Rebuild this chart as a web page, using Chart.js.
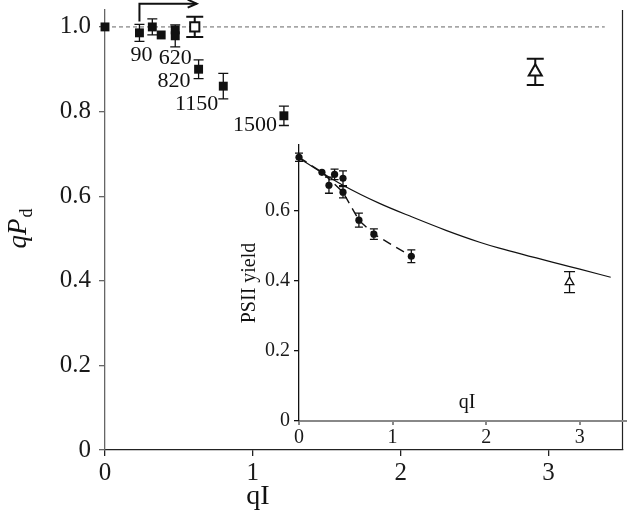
<!DOCTYPE html>
<html>
<head>
<meta charset="utf-8">
<script src="https://cdn.jsdelivr.net/npm/chart.js@4.4.1/dist/chart.umd.min.js"></script>
<style>
    html, body { margin: 0; padding: 0; background: #fff; }
    #wrap { position: relative; width: 632px; height: 518px; }
    #main { position: absolute; left: 0; top: 0; }
    #inset { position: absolute; left: 230px; top: 130px; }
</style>
</head>
<body>
<div id="wrap">
    <canvas id="main" width="632" height="518"></canvas>
    <canvas id="inset" width="402" height="340"></canvas>
</div>
<script>
// ---- main panel: qPd against qI ----
const mainQI  = [0, 0.233, 0.32, 0.38, 0.475, 0.475, 0.633, 0.80, 1.21];
const mainQPd = [1.0, 0.986, 1.0, 0.981, 0.993, 0.979, 0.90, 0.86, 0.79];
const mainErr = [0, 0.02, 0.019, 0, 0, 0.026, 0.022, 0.03, 0.023];

const openSquareQI = [0.607];
const openSquareQPd = [1.0];
const openSquareErr = [0.024];

const triangleQI = [2.91];
const triangleQPd = [0.894];
const triangleErr = [0.031];

// light intensity labels, index into the main arrays
const pointLabels = ['90', '620', '820', '1150', '1500'];
const pointLabelIdx = [1, 5, 6, 7, 8];

const refLineQI = [0, 3.38];
const refLineQPd = [1, 1];

const arrowQI = [0.233, 0.233, 0.62];
const arrowQPd = [1.013, 1.055, 1.055];

const mainXTicks = [0, 1, 2, 3];
const mainYTicks = [0, 0.2, 0.4, 0.6, 0.8, 1.0];

// ---- inset: PSII yield against qI ----
const insetQI    = [0, 0.245, 0.32, 0.38, 0.47, 0.47, 0.64, 0.80, 1.20];
const insetYield = [0.754, 0.711, 0.674, 0.705, 0.694, 0.654, 0.574, 0.534, 0.471];
const insetErr   = [0.012, 0, 0.023, 0.015, 0.021, 0.016, 0.02, 0.015, 0.018];

const fitQI    = [0, 0.245, 0.47, 0.64, 0.80, 1.20];
const fitYield = [0.754, 0.711, 0.654, 0.574, 0.534, 0.471];

const modelQI    = [0, 0.47, 0.86, 1.21, 1.57, 1.93, 2.14, 3.0, 3.33];
const modelYield = [0.751, 0.674, 0.622, 0.583, 0.545, 0.511, 0.494, 0.434, 0.411];

const insetTriQI = [2.89];
const insetTriYield = [0.397];
const insetTriErr = [0.03];

const insetXTicks = [0, 1, 2, 3];
const insetYTicks = [0, 0.2, 0.4, 0.6];

const SERIF = '"Liberation Serif", "DejaVu Serif", serif';

function pts(xs, ys){
    return xs.map((x, i) => ({x: x, y: ys[i]}));
}

function fixedTicks(list){
    return function(scale){
        scale.ticks = list.map(v => ({value: v}));
    };
}

// error bars drawn under the markers
const errorBars = {
    id: 'errorBars',
    beforeDatasetsDraw(chart){
        const ctx = chart.ctx;
        const xs = chart.scales.x, ys = chart.scales.y;
        ctx.save();
        chart.data.datasets.forEach((ds) => {
            if (!ds.errs) return;
            ctx.strokeStyle = '#111';
            ctx.lineWidth = ds.errWidth || 1.3;
            ds.data.forEach((p, i) => {
                const e = ds.errs[i];
                if (!e) return;
                const px = xs.getPixelForValue(p.x);
                const top = ys.getPixelForValue(p.y + e);
                const bot = ys.getPixelForValue(p.y - e);
                const c = ds.capW / 2;
                ctx.beginPath();
                ctx.moveTo(px, top); ctx.lineTo(px, bot);
                ctx.moveTo(px - c, top); ctx.lineTo(px + c, top);
                ctx.moveTo(px - c, bot); ctx.lineTo(px + c, bot);
                ctx.stroke();
            });
        });
        ctx.restore();
    }
};

const mainDecor = {
    id: 'mainDecor',
    afterDraw(chart){
        const ctx = chart.ctx;
        const xs = chart.scales.x, ys = chart.scales.y;
        const area = chart.chartArea;
        ctx.save();

        // right frame line
        ctx.strokeStyle = '#222';
        ctx.lineWidth = 1.2;
        ctx.beginPath();
        ctx.moveTo(area.right, area.top);
        ctx.lineTo(area.right, area.bottom);
        ctx.stroke();

        // arrow
        ctx.strokeStyle = '#111';
        ctx.lineWidth = 2;
        ctx.beginPath();
        arrowQI.forEach((q, i) => {
            const px = xs.getPixelForValue(q), py = ys.getPixelForValue(arrowQPd[i]);
            if (i === 0) ctx.moveTo(px, py); else ctx.lineTo(px, py);
        });
        ctx.stroke();
        const tipX = xs.getPixelForValue(arrowQI[2]);
        const tipY = ys.getPixelForValue(arrowQPd[2]);
        ctx.beginPath();
        ctx.moveTo(tipX - 9, tipY - 4);
        ctx.lineTo(tipX, tipY);
        ctx.lineTo(tipX - 9, tipY + 4);
        ctx.stroke();

        // point labels
        ctx.fillStyle = '#111';
        ctx.font = '22px ' + SERIF;
        ctx.textBaseline = 'middle';
        pointLabels.forEach((txt, k) => {
            const i = pointLabelIdx[k];
            const px = xs.getPixelForValue(mainQI[i]);
            const py = ys.getPixelForValue(mainQPd[i]);
            if (k < 2) {
                ctx.textAlign = 'center';
                ctx.fillText(txt, px + (k === 0 ? 2 : 0), py + 22);
            } else {
                ctx.textAlign = 'right';
                const dy = [12, 18, 9][k - 2];
                const dx = [8, 5, 7][k - 2];
                ctx.fillText(txt, px - dx, py + dy);
            }
        });

        // x title
        ctx.textAlign = 'center';
        ctx.textBaseline = 'middle';
        ctx.font = '28px ' + SERIF;
        ctx.fillText('qI', 258, 497);

        // y title qPd
        ctx.translate(18, 229);
        ctx.rotate(-Math.PI / 2);
        ctx.textAlign = 'left';
        ctx.textBaseline = 'alphabetic';
        ctx.font = 'italic 27px ' + SERIF;
        const w1 = ctx.measureText('qP').width;
        ctx.font = '18px ' + SERIF;
        const w2 = ctx.measureText('d').width;
        const x0 = -(w1 + w2) / 2;
        ctx.font = 'italic 27px ' + SERIF;
        ctx.fillText('qP', x0, 8);
        ctx.font = '18px ' + SERIF;
        ctx.fillText('d', x0 + w1 + 1, 14);
        ctx.restore();
    }
};

const insetDecor = {
    id: 'insetDecor',
    afterDraw(chart){
        const ctx = chart.ctx;
        ctx.save();
        ctx.fillStyle = '#111';
        ctx.textAlign = 'center';
        ctx.textBaseline = 'middle';
        ctx.font = '20px ' + SERIF;
        ctx.fillText('qI', 237, 273);
        ctx.translate(20, 153);
        ctx.rotate(-Math.PI / 2);
        ctx.fillText('PSII yield', 0, 0);
        ctx.restore();
    }
};

function axis(opts){
    return {
        type: 'linear',
        min: opts.min,
        max: opts.max,
        afterBuildTicks: fixedTicks(opts.ticks),
        afterFit(s){
            if (opts.width) s.width = opts.width;
            if (opts.height) s.height = opts.height;
            s.paddingTop = 0; s.paddingBottom = 0;
            s.paddingLeft = 0; s.paddingRight = 0;
        },
        grid: {drawOnChartArea: false, drawTicks: true, tickLength: opts.tickLen, color: opts.color, lineWidth: opts.lineW},
        border: {color: opts.color, width: opts.lineW},
        ticks: {
            font: {family: SERIF, size: opts.font},
            color: '#1a1a1a',
            padding: opts.pad,
            autoSkip: false,
            maxRotation: 0,
            callback: opts.fmt
        }
    };
}

const fmtY = v => (v === 0 ? '0' : v.toFixed(1));
const fmtX = v => String(v);

new Chart(document.getElementById('main'), {
    type: 'scatter',
    data: {
        datasets: [
            {
                data: pts(triangleQI, triangleQPd), errs: triangleErr, capW: 17, errWidth: 2,
                pointStyle: 'triangle', pointRadius: 7.5, backgroundColor: '#fff', borderColor: '#111', borderWidth: 2, order: 1
            },
            {
                data: pts(openSquareQI, openSquareQPd), errs: openSquareErr, capW: 17, errWidth: 2,
                pointStyle: 'rect', pointRadius: 6.5, backgroundColor: '#fff', borderColor: '#111', borderWidth: 2, order: 1
            },
            {
                data: pts(mainQI, mainQPd), errs: mainErr, capW: 10,
                pointStyle: 'rect', pointRadius: 6.3, backgroundColor: '#111', borderColor: '#111', borderWidth: 0, order: 2
            },
            {
                type: 'line', data: pts(refLineQI, refLineQPd), borderColor: '#666', borderWidth: 1,
                borderDash: [4, 3], pointRadius: 0, showLine: true, order: 5
            }
        ]
    },
    options: {
        responsive: false,
        animation: false,
        devicePixelRatio: 1,
        clip: false,
        layout: {padding: {top: 10, right: 1, left: 0, bottom: 0}},
        plugins: {legend: {display: false}, tooltip: {enabled: false}},
        scales: {
            x: axis({min: 0, max: 3.5, ticks: mainXTicks, height: 68, tickLen: 6, color: '#222', lineW: 1.3, font: 25, pad: 2, fmt: fmtX}),
            y: axis({min: 0, max: 1.04, ticks: mainYTicks, width: 105, tickLen: 6, color: '#666', lineW: 1.3, font: 25, pad: 8, fmt: fmtY})
        }
    },
    plugins: [errorBars, mainDecor]
});

new Chart(document.getElementById('inset'), {
    type: 'scatter',
    data: {
        datasets: [
            {
                data: pts(insetQI, insetYield), errs: insetErr, capW: 8,
                pointStyle: 'circle', pointRadius: 3.6, backgroundColor: '#111', borderColor: '#111', borderWidth: 0, order: 1
            },
            {
                data: pts(insetTriQI, insetTriYield), errs: insetTriErr, capW: 11,
                pointStyle: 'triangle', pointRadius: 5, backgroundColor: '#fff', borderColor: '#111', borderWidth: 1.3, order: 1
            },
            {
                type: 'line', data: pts(fitQI, fitYield), borderColor: '#111', borderWidth: 1.4,
                borderDash: [9, 6], pointRadius: 0, tension: 0, order: 3
            },
            {
                type: 'line', data: pts(modelQI, modelYield), borderColor: '#111', borderWidth: 1.2,
                pointRadius: 0, cubicInterpolationMode: 'monotone', order: 4
            }
        ]
    },
    options: {
        responsive: false,
        animation: false,
        devicePixelRatio: 1,
        clip: false,
        layout: {padding: {top: 15, right: 5, left: 0, bottom: 0}},
        plugins: {legend: {display: false}, tooltip: {enabled: false}},
        scales: {
            x: axis({min: 0, max: 3.49, ticks: insetXTicks, height: 49, tickLen: 4, color: '#888', lineW: 2, font: 20, pad: 1, fmt: fmtX}),
            y: axis({min: 0, max: 0.789, ticks: insetYTicks, width: 69, tickLen: 5, color: '#111', lineW: 1.3, font: 20, pad: 4, fmt: fmtY})
        }
    },
    plugins: [errorBars, insetDecor]
});
</script>
</body>
</html>
